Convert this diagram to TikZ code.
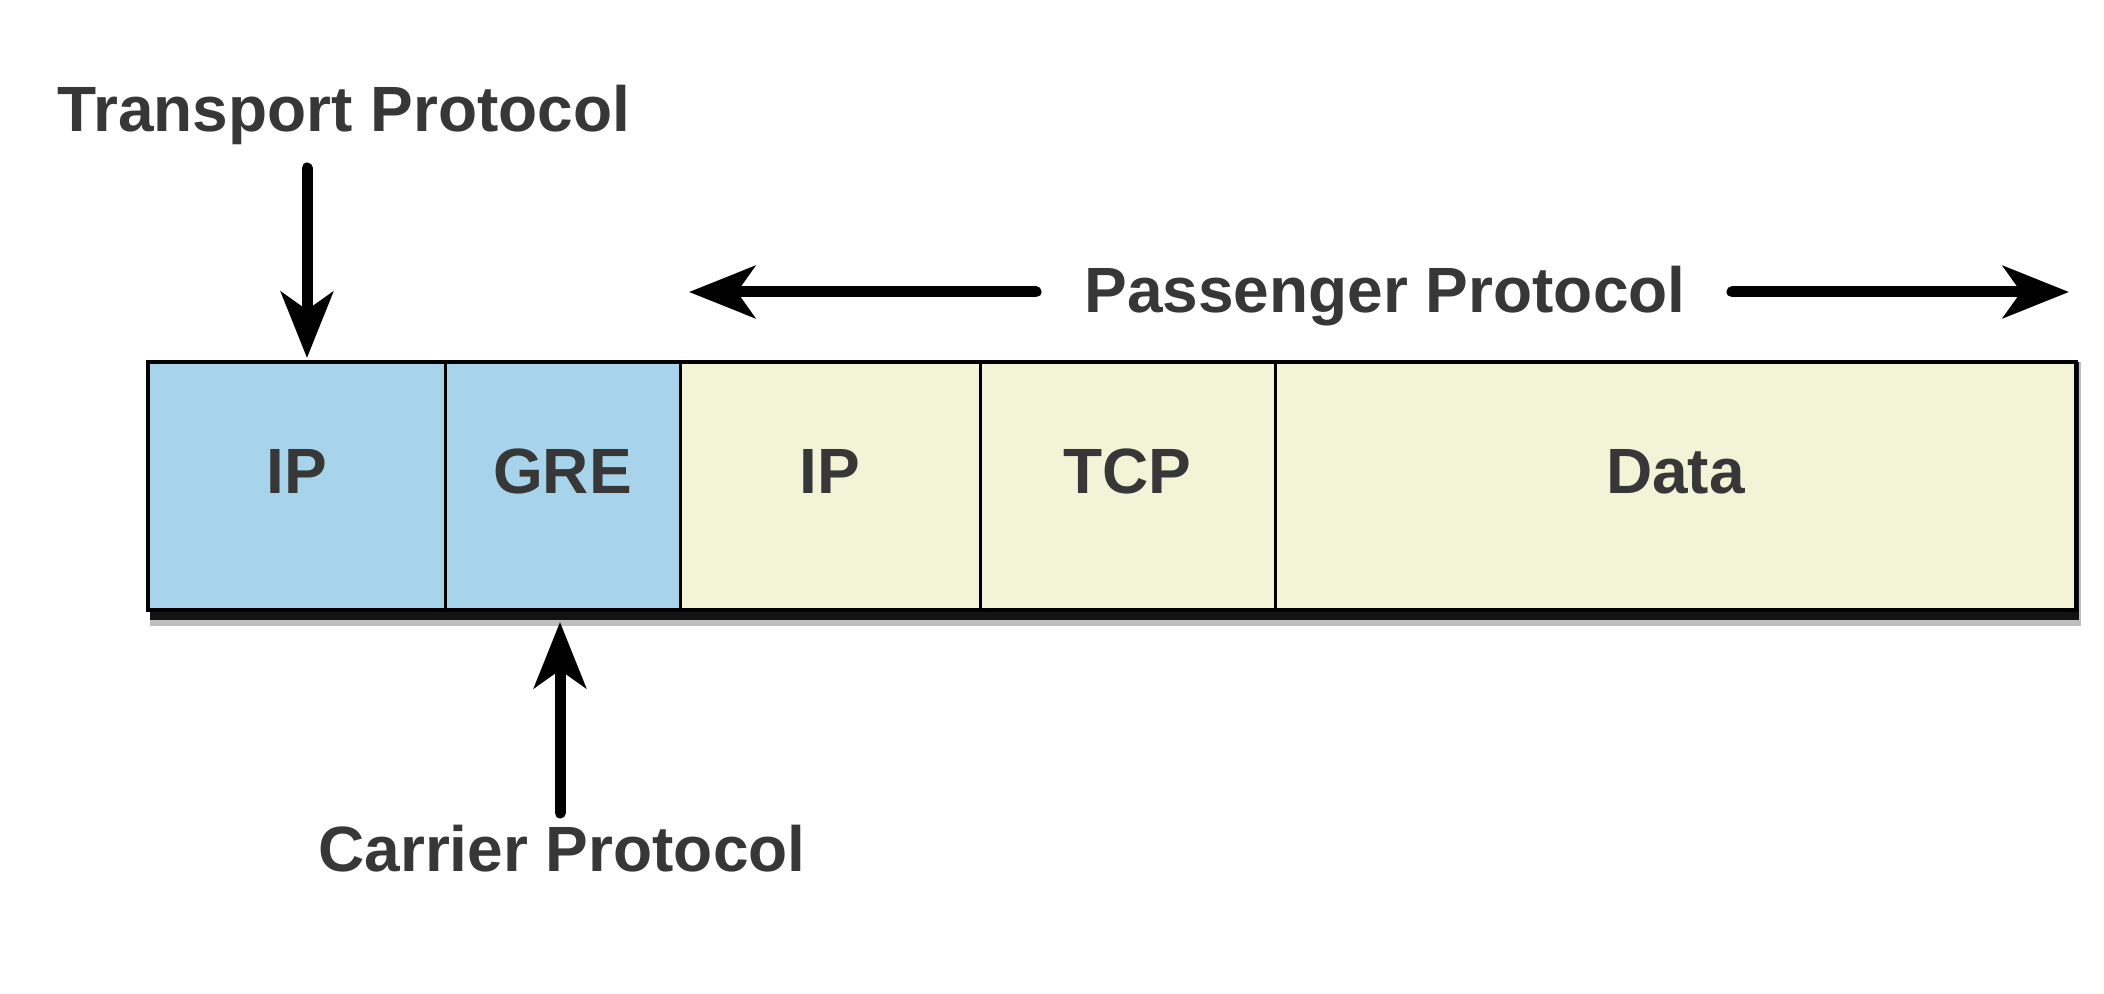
\documentclass[tikz,border=0pt]{standalone}
\usepackage{fontspec}
\setmainfont{Liberation Sans}
\usetikzlibrary{positioning,arrows.meta,backgrounds}
\definecolor{carrierblue}{RGB}{167,211,235}
\definecolor{passcream}{RGB}{243,244,215}
\definecolor{labelgray}{RGB}{55,55,55}
\tikzset{
  cell/.style={draw=black,line width=1.5pt,inner sep=0pt,outer sep=0pt,minimum height=124pt,
    text height=23.5pt,text depth=16pt,
    font=\fontsize{32}{38}\selectfont\bfseries,text=labelgray},
  tag/.style={inner sep=0pt,text height=23.5pt,text depth=0pt,
    font=\fontsize{32}{38}\selectfont\bfseries,text=labelgray},
  bigarrow/.style={line width=5.5pt,line cap=round,
    -{Stealth[length=33pt,width=26pt,inset=9pt]}},
}

\begin{document}
\begin{tikzpicture}[x=0.5pt,y=-0.5pt]
    \useasboundingbox (0,0) rectangle (2104,994);
    % the packet
    \node[cell,fill=carrierblue,minimum width=148.5pt,anchor=north west] (ip1) at (148,362) {IP};
    \node[cell,fill=carrierblue,minimum width=117.5pt,right=0pt of ip1] (gre) {GRE};
    \node[cell,fill=passcream,minimum width=150pt,right=0pt of gre] (ip2) {IP};
    \node[cell,fill=passcream,minimum width=147.5pt,right=0pt of ip2] (tcp) {TCP};
    \node[cell,fill=passcream,minimum width=400.5pt,right=0pt of tcp] (data) {Data};
    \draw[line width=2pt] (ip1.north west) rectangle (data.south east);
    \begin{scope}[on background layer]
      \fill[black,opacity=.25] ([xshift=1pt]ip1.north west) rectangle ([xshift=2.5pt,yshift=-8pt]data.south east);
      \fill[black,opacity=.9] ([xshift=1pt]ip1.north west) rectangle ([xshift=1.5pt,yshift=-5pt]data.south east);
    \end{scope}
    % labels
    \node[tag] (trans) at (344,108) {Transport Protocol};
    \node[tag] (pass) at (1385,289) {Passenger Protocol};
    \node[tag] (carr) at (562,848) {Carrier Protocol};
    \coordinate (tstart) at (307,168);
    \coordinate (cstart) at (560,813);
    \coordinate (pl) at (689,292);
    \coordinate (pr) at (2069,292);
    \draw[bigarrow,shorten >=2pt] (tstart) -- (tstart |- ip1.north);
    \draw[bigarrow,shorten >=6pt] (cstart) -- (cstart |- gre.south);
    \draw[bigarrow,shorten <=24pt] (pass.west |- pl) -- (pl);
    \draw[bigarrow,shorten <=23pt] (pass.east |- pr) -- (pr);
\end{tikzpicture}
\end{document}
